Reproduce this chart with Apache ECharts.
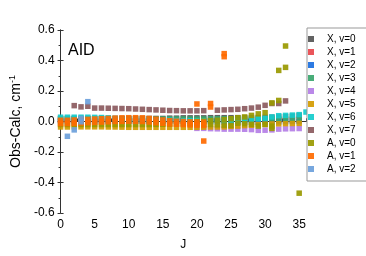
<!DOCTYPE html>
<html><head><meta charset="utf-8">
<script src="https://cdn.jsdelivr.net/npm/echarts@6/dist/echarts.min.js"></script>
<style>html,body{margin:0;padding:0;background:#fff}#c{width:366px;height:256px}</style>
</head><body><div id="c"></div>
<script>
const seriesNames = ['X, v=0','X, v=1','X, v=2','X, v=3','X, v=4','X, v=5','X, v=6','X, v=7','A, v=0','A, v=1','A, v=2'];
const seriesColors = ['#555555','#e8464c','#1a6fdf','#3aa66e','#b47ee6','#d49b00','#14cccc','#8b5a5e','#999900','#ff6a00','#6b9fdb'];

const xv0 = [[0,0.02],[1,0.02],[2,0.02],[3,0.02],[4,0.02],[5,0.02],[6,0.02],[7,0.02],[8,0.02],[9,0.02],[10,0.02],[11,0.02],[12,0.02],[13,0.02],[14,0.02],[15,0.02],[16,0.022],[17,0.022],[18,0.024],[19,0.024],[20,0.024],[21,0.024],[22,0.025],[23,0.025],[24,0.025],[25,0.025],[26,0.025],[27,0.025],[28,0.026],[29,0.026],[30,0.027],[31,0.028],[32,0.03],[33,0.032],[34,0.035],[35,0.04]];
const xv1 = [[0,0.006],[1,0.006],[2,0.006],[3,0.006],[4,0.006],[5,0.006],[6,0.006],[7,0.006],[8,0.006],[9,0.006],[10,0.006],[11,0.006],[12,0.006],[13,0.006],[14,0.006],[15,0.006],[16,0.007],[17,0.007],[18,0.007],[19,0.007],[20,0.007],[21,0.007],[22,0.008],[23,0.008],[24,0.008],[25,0.008],[26,0.008],[27,0.009],[28,0.009],[29,0.01],[30,0.01],[31,0.01],[32,0.009],[33,0.009],[34,0.008],[35,0.008]];
const xv2 = [[0,0.0],[1,0.0],[2,0.0],[3,0.0],[4,0.0],[5,0.0],[6,0.0],[7,0.0],[8,0.0],[9,0.0],[10,0.0],[11,0.0],[12,0.0],[13,0.0],[14,0.0],[15,0.0],[16,0.0],[17,0.0],[18,0.0],[19,0.0],[20,0.0],[21,0.0],[22,-0.002],[23,-0.002],[24,-0.003],[25,-0.003],[26,-0.004],[27,-0.004],[28,-0.005],[29,-0.006],[30,-0.005],[31,-0.003],[32,-0.002],[33,-0.001],[34,0.0],[35,0.0]];
const xv3 = [[0,0.017],[1,0.017],[2,0.017],[3,0.017],[4,0.017],[5,0.017],[6,0.017],[7,0.017],[8,0.017],[9,0.017],[10,0.017],[11,0.017],[12,0.017],[13,0.017],[14,0.017],[15,0.017],[16,0.017],[17,0.017],[18,0.017],[19,0.017],[20,0.017],[21,0.017],[22,0.018],[23,0.018],[24,0.018],[25,0.018],[26,0.019],[27,0.019],[28,0.02],[29,0.02],[30,0.018],[31,0.017],[32,0.016],[33,0.016],[34,0.015],[35,0.015]];
const xv4 = [[20,-0.045],[21,-0.045],[22,-0.047],[23,-0.048],[24,-0.05],[25,-0.05],[26,-0.05],[27,-0.051],[28,-0.053],[29,-0.058],[30,-0.057],[31,-0.055],[32,-0.05],[33,-0.048],[34,-0.047],[35,-0.046]];
const xv5 = [[0,-0.036],[1,-0.036],[2,-0.035],[3,-0.035],[4,-0.035],[5,-0.035],[6,-0.035],[7,-0.036],[8,-0.036],[9,-0.037],[10,-0.038],[11,-0.038],[12,-0.038],[13,-0.038],[14,-0.038],[15,-0.038],[16,-0.038],[17,-0.038],[18,-0.038],[19,-0.038],[20,-0.038],[21,-0.037],[22,-0.036],[23,-0.036],[24,-0.035],[25,-0.032],[26,-0.03],[27,-0.027],[28,-0.025],[29,-0.02],[30,-0.018],[31,-0.016],[32,-0.015],[33,-0.014],[34,-0.013],[35,-0.012]];
const xv6 = [[0,0.028],[1,0.028],[2,0.028],[3,0.028],[4,0.028],[5,0.027],[6,0.026],[7,0.024],[8,0.02],[9,0.012],[10,0.008],[11,0.006],[12,0.005],[13,0.005],[14,0.005],[15,0.006],[16,0.008],[17,0.006],[18,0.005],[19,0.005],[20,0.005],[21,0.005],[22,0.005],[23,0.006],[24,0.006],[25,0.007],[26,0.008],[27,0.01],[28,0.014],[29,0.018],[30,0.022],[31,0.03],[32,0.038],[33,0.04],[34,0.042],[35,0.045],[36,0.062]];
const xv7 = [[2,0.104],[3,0.096],[4,0.1],[5,0.088],[6,0.088],[7,0.087],[8,0.086],[9,0.085],[10,0.084],[11,0.082],[12,0.08],[13,0.078],[14,0.076],[15,0.074],[16,0.072],[17,0.071],[18,0.07],[19,0.07],[20,0.07],[21,0.071],[23,0.074],[24,0.076],[25,0.078],[26,0.08],[27,0.084],[28,0.088],[29,0.094],[30,0.106],[31,0.118],[32,0.118],[33,0.135]];
const av0 = [[0,-0.02],[1,-0.02],[2,-0.02],[3,-0.02],[4,-0.02],[5,-0.02],[6,-0.02],[7,-0.02],[8,-0.02],[9,-0.02],[10,-0.02],[11,-0.02],[12,-0.02],[13,-0.02],[14,-0.019],[15,-0.018],[16,-0.017],[17,-0.016],[18,-0.015],[19,-0.015],[20,-0.016],[21,-0.018],[22,-0.02],[23,-0.022],[24,-0.024],[25,-0.026],[26,-0.012],[27,-0.015],[28,-0.018],[29,-0.03],[30,-0.02],[31,-0.03],[31,-0.045],[35,-0.47],
  [20,0.0],[21,0.002],[22,0.005],[23,0.008],[24,0.012],[25,0.018],[26,0.025],[27,0.03],[28,0.04],[29,0.05],[30,0.058],[31,0.122],[32,0.138],[32,0.335],[33,0.355],[33,0.495]];
const av1 = [[0,0.008],[1,0.008],[2,0.01],[3,0.012],[4,0.014],[5,0.016],[6,0.018],[7,0.02],[8,0.022],[9,0.024],[10,0.025],[11,0.025],[12,0.024],[13,0.02],[14,0.015],[15,0.01],[16,0.005],[17,0.002],[18,0.0],[19,-0.002],[20,-0.003],[21,-0.005],
  [0,-0.014],[1,-0.014],[2,-0.012],[3,-0.01],[4,-0.008],[5,-0.006],[6,-0.004],[7,-0.002],[8,0.0],[9,0.001],[10,0.002],[11,0.001],[12,0.0],[13,-0.003],[14,-0.008],[15,-0.012],[16,-0.016],[17,-0.018],[18,-0.02],[19,-0.022],[20,-0.024],[21,-0.025],
  [20,0.115],[21,-0.128],[22,0.118],[22,0.095],[24,0.445],[24,0.425]];
const av2 = [[1,-0.097],[2,-0.055],[3,0.02],[3,-0.002],[4,0.13]];
const seriesData = [xv0,xv1,xv2,xv3,xv4,xv5,xv6,xv7,av0,av1,av2];

const xMin = 0, xMax = 36, xStep = 5;
const yMin = -0.6, yMax = 0.6, yStep = 0.2;

const FONT = 'Liberation Sans, Arial, sans-serif';
const chart = echarts.init(document.getElementById('c'), null, {renderer:'canvas'});
const axisLine = {show:true, lineStyle:{color:'#333', width:1}};
chart.setOption({
  animation:false,
  backgroundColor:'#fff',
  title:{text:'AID', left:68, top:43, padding:0, textStyle:{fontFamily:FONT, fontSize:16, fontWeight:'normal', color:'#000'}},
  grid:{left:57, right:60, top:30, bottom:42},
  legend:{
    orient:'vertical', left:307, top:28, padding:[5,40,6,1],
    backgroundColor:'#fff', borderColor:'#999', borderWidth:1,
    itemWidth:22, itemHeight:6, itemGap:1,
    icon:'path://M0,0L10,0L10,10L0,10Z',
    textStyle:{fontFamily:FONT, fontSize:10, color:'#000', lineHeight:12},
    data:seriesNames
  },
  xAxis:[{
    type:'value', min:xMin, max:xMax, interval:xStep, position:'bottom',
    axisLine, splitLine:{show:false},
    axisTick:{show:true, inside:true, length:3, lineStyle:{color:'#333'}},
    minorTick:{show:true, splitNumber:2, length:3, lineStyle:{color:'#333'}},
    axisLabel:{fontFamily:FONT, fontSize:12, color:'#000', margin:6},
    name:'J', nameLocation:'middle', nameGap:26,
    nameTextStyle:{fontFamily:FONT, fontSize:12, color:'#000'}
  },{
    type:'value', min:xMin, max:xMax, interval:xStep, position:'top',
    axisLine, splitLine:{show:false},
    axisTick:{show:true, inside:false, length:3, lineStyle:{color:'#333'}},
    axisLabel:{show:false}
  }],
  yAxis:[{
    type:'value', min:yMin, max:yMax, interval:yStep, position:'left',
    axisLine, splitLine:{show:false},
    axisTick:{show:true, inside:false, length:3, lineStyle:{color:'#333'}},
    minorTick:{show:true, splitNumber:2, length:2, lineStyle:{color:'#333'}},
    axisLabel:{fontFamily:FONT, fontSize:12, color:'#000', margin:6, formatter:v=>v.toFixed(1)},
    name:'{a|Obs-Calc, cm}{b|-1}', nameLocation:'middle', nameGap:31,
    nameTextStyle:{fontFamily:FONT, fontSize:14, color:'#000',
      rich:{a:{fontFamily:FONT, fontSize:14, color:'#000', lineHeight:16},
            b:{fontFamily:FONT, fontSize:9, color:'#000', verticalAlign:'top', lineHeight:16}}}
  },{
    type:'value', min:yMin, max:yMax, interval:yStep, position:'right',
    axisLine, splitLine:{show:false},
    axisTick:{show:true, inside:false, length:3, lineStyle:{color:'#333'}},
    axisLabel:{show:false}
  }],
  series: seriesNames.map((n,i)=>({
    name:n, type:'scatter', symbol:'rect', symbolSize:5.5,
    itemStyle:{color:seriesColors[i], opacity:0.92},
    data:seriesData[i], silent:true
  }))
});
</script></body></html>
